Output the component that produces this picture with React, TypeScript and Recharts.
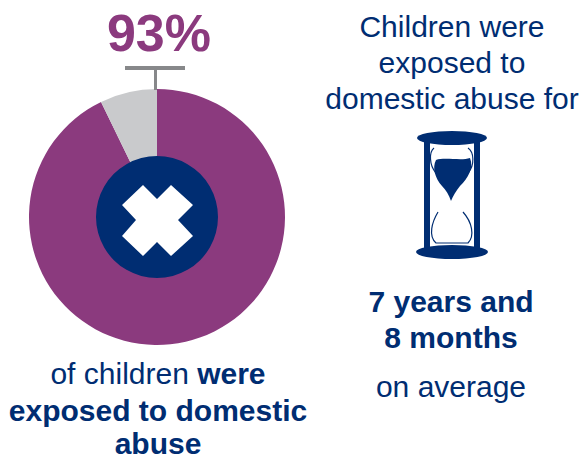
import { PieChart, Pie, Cell } from 'recharts';

const exposureNames = ['Exposed', 'Not exposed'];
const exposureValues = [92.8, 7.2];
const exposureColors = ['#8b3a7e', '#c9cacc'];
const centreValues = [1];

const NAVY = '#002d72';
const FONT = '"Liberation Sans", Arial, sans-serif';

const exposureData = exposureNames.map((name, i) => ({ name, value: exposureValues[i] }));
const centreData = centreValues.map((value) => ({ name: 'centre', value }));

function Label({ x, y, children, bold }: { x: number; y: number; children: any; bold?: boolean }) {
  return (
    <text x={x} y={y} textAnchor="middle" fontFamily={FONT} fontSize={30} fontWeight={bold ? 700 : 400} fill={NAVY}>
      {children}
    </text>
  );
}

function Hourglass() {
  return (
    <g fill={NAVY}>
      <ellipse cx={452} cy={138} rx={35} ry={7} />
      <ellipse cx={452} cy={252} rx={36} ry={7} />
      <rect x={424} y={142} width={6} height={106} />
      <rect x={474} y={142} width={6} height={106} />
      <path d="M436 160 C444 157 462 161 470 158 C474 168 468 178 460 186 C456 191 453 196 451 201 C449 195 446 190 442 186 C435 178 432 168 436 160 Z" />
      <g fill="none" stroke={NAVY} strokeWidth={1.2}>
        <path d="M434 148 C429 152 429 165 436 173" />
        <path d="M468 148 C474 152 475 165 468 173" />
        <path d="M438 212 C432 222 428 236 436 243 L468 243 C475 236 472 222 463 212" />
      </g>
    </g>
  );
}

export default function App() {
  return (
    <div style={{ position: 'absolute', left: 0, top: 0, width: 582, height: 459, background: '#fff' }}>
      <PieChart width={582} height={459} margin={{ top: 0, right: 0, bottom: 0, left: 0 }}>
        <Pie
          data={exposureData}
          dataKey="value"
          cx={157}
          cy={217}
          outerRadius={128}
          innerRadius={0}
          startAngle={90}
          endAngle={-270}
          stroke="none"
          isAnimationActive={false}
        >
          {exposureData.map((d, i) => (
            <Cell key={d.name} fill={exposureColors[i]} />
          ))}
        </Pie>
        <Pie
          data={centreData}
          dataKey="value"
          cx={157}
          cy={217}
          outerRadius={61}
          innerRadius={0}
          fill={NAVY}
          stroke="none"
          isAnimationActive={false}
        />
      </PieChart>
      {/* pies paint above svg children, so the cross and texts sit in their own layer */}
      <svg width={582} height={459} style={{ position: 'absolute', left: 0, top: 0 }}>
        <path
          d="M157 199 L171 185 L193 205 L178 220 L193 236 L171 256 L157 242 L143 256 L122 236 L136 220 L122 205 L143 185 Z"
          fill="#fff"
        />
        <rect x={125} y={66} width={60} height={4} fill="#87888a" />
        <rect x={154} y={68} width={3} height={22} fill="#87888a" />
        <text x={159} y={51} textAnchor="middle" fontFamily={FONT} fontSize={52} fontWeight={700} fill="#8b3a7e">
          93%
        </text>
        <Label x={452} y={37}>Children were</Label>
        <Label x={452} y={73}>exposed to</Label>
        <Label x={452} y={109}>domestic abuse for</Label>
        <Hourglass />
        <Label x={451} y={312} bold>7 years and</Label>
        <Label x={451} y={348} bold>8 months</Label>
        <Label x={451} y={397}>on average</Label>
        <Label x={158} y={384}>
          of children <tspan fontWeight={700}>were</tspan>
        </Label>
        <Label x={158} y={421} bold>exposed to domestic</Label>
        <Label x={158} y={454} bold>abuse</Label>
      </svg>
    </div>
  );
}
